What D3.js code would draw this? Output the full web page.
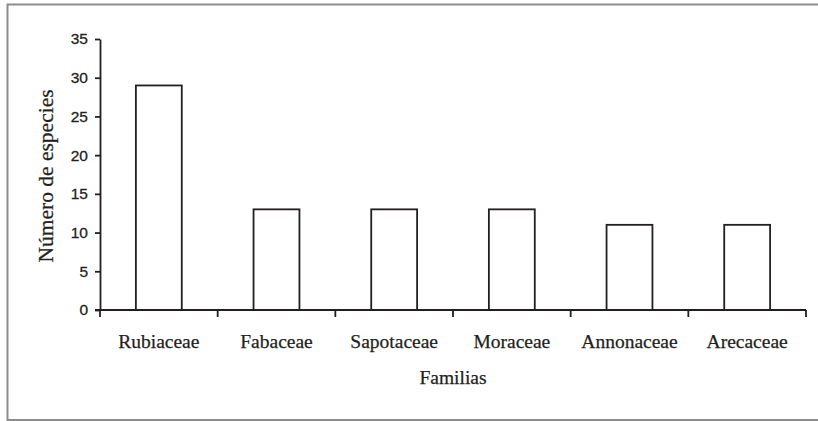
<!DOCTYPE html>
<html>
<head>
<meta charset="utf-8">
<script src="https://cdn.jsdelivr.net/npm/d3@7/dist/d3.min.js"></script>
<style>
html,body{margin:0;padding:0;background:#fff;}
svg{display:block;}
</style>
</head>
<body>
<svg id="chart" width="818" height="421"></svg>
<script>
const categories = ["Rubiaceae","Fabaceae","Sapotaceae","Moraceae","Annonaceae","Arecaceae"];
const values = [29, 13, 13, 13, 11, 11];
const yTicks = [0, 5, 10, 15, 20, 25, 30, 35];
const xTitle = "Familias";
const yTitle = "Número de especies";

const svg = d3.select("#chart");
const serif = "Liberation Serif, Times New Roman, serif";
const ink = "#231f20";

// outer frame
svg.append("rect").attr("x", 7.5).attr("y", 4.5).attr("width", 820).attr("height", 415.5)
  .attr("fill", "#fff").attr("stroke", "#8c8c8c").attr("stroke-width", 2);

const x0 = 100, x1 = 806, yTop = 39, yBot = 310;
const x = d3.scaleBand().domain(categories).range([x0, x1]).paddingInner(0.61).paddingOuter(0.305);
const y = d3.scaleLinear().domain([0, 35]).range([yBot, yTop]);

// bars
svg.append("g").selectAll("rect").data(values).join("rect")
  .attr("x", (d, i) => x(categories[i]))
  .attr("y", d => y(d))
  .attr("width", x.bandwidth())
  .attr("height", d => yBot - y(d))
  .attr("fill", "#fff").attr("stroke", ink).attr("stroke-width", 1.8);

// y axis
const yAxis = d3.axisLeft(y).tickValues(yTicks).tickSize(5).tickPadding(7).tickSizeOuter(0);
const gy = svg.append("g").attr("transform", `translate(${x0},0)`).call(yAxis);
gy.select(".domain").attr("stroke", ink).attr("stroke-width", 1.8);
gy.selectAll(".tick line").attr("stroke", ink).attr("stroke-width", 1.8);
gy.selectAll(".tick text").attr("font-family", "Liberation Sans, Arial, sans-serif")
  .attr("font-size", 15.5).attr("fill", ink).attr("stroke", ink).attr("stroke-width", 0.3);

// x axis: domain and boundary ticks
const gx = svg.append("g").attr("transform", `translate(0,${yBot})`);
gx.append("line").attr("x1", x0 - 5).attr("x2", x1).attr("y1", 0).attr("y2", 0)
  .attr("stroke", ink).attr("stroke-width", 1.8);
const step = x.step();
const bounds = d3.range(categories.length + 1).map(i => x(categories[0]) - x.paddingOuter() * step + i * step);
gx.selectAll("line.b").data(bounds).join("line").attr("class", "b")
  .attr("x1", d => d).attr("x2", d => d).attr("y1", 0).attr("y2", 7)
  .attr("stroke", ink).attr("stroke-width", 1.8);
gx.selectAll("text").data(categories).join("text")
  .attr("x", d => x(d) + x.bandwidth() / 2).attr("y", 38)
  .attr("text-anchor", "middle")
  .attr("font-family", serif)
  .attr("font-size", 19.5).attr("fill", ink).attr("stroke", ink).attr("stroke-width", 0.25).text(d => d);

// titles
svg.append("text").attr("x", (x0 + x1) / 2).attr("y", 384).attr("text-anchor", "middle")
  .attr("font-family", serif).attr("font-size", 19.5)
  .attr("fill", ink).attr("stroke", ink).attr("stroke-width", 0.25).text(xTitle);
svg.append("text").attr("transform", `translate(53,176) rotate(-90)`)
  .attr("text-anchor", "middle")
  .attr("font-family", serif).attr("font-size", 21.5)
  .attr("fill", ink).attr("stroke", ink).attr("stroke-width", 0.25).text(yTitle);
</script>
</body>
</html>
